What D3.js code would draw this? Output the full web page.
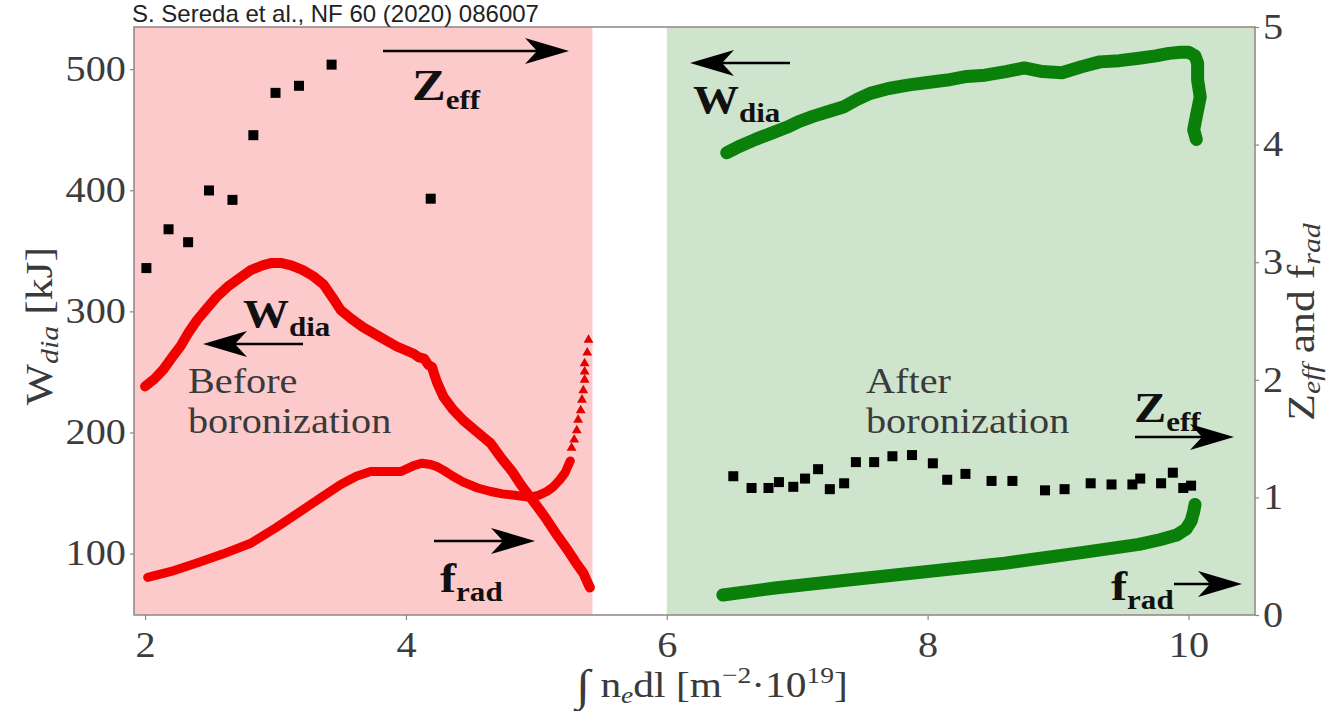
<!DOCTYPE html>
<html>
<head>
<meta charset="utf-8">
<script src="https://cdn.jsdelivr.net/npm/d3@7"></script>
<style>
body { margin: 0; background: #fff; }
svg { display: block; }
</style>
</head>
<body>
<svg id="chart" width="1326" height="711"></svg>
<script>
// ---- data ----
var xTicks = [2, 4, 6, 8, 10];
var yLeftTicks = [100, 200, 300, 400, 500];
var yRightTicks = [0, 1, 2, 3, 4, 5];

var spanBefore = [1.915, 5.43];
var spanAfter = [6.0, 10.51];

// before boronization: W_dia [kJ] (left axis)
var wdiaBefore = [[2.00,238],[2.07,244],[2.14,252],[2.20,261],[2.27,271],[2.33,282],[2.40,293],[2.47,302],
  [2.55,312],[2.64,321],[2.73,328],[2.81,334],[2.90,338],[2.97,340],[3.04,340],[3.12,338],[3.21,334],
  [3.29,329],[3.37,322],[3.44,311],[3.50,301],[3.58,294],[3.67,287],[3.80,279],[3.93,271],[4.06,265],
  [4.10,262],[4.14,261],[4.17,256],[4.20,254],[4.22,247],[4.24,241],[4.29,229],[4.36,219],[4.44,210],
  [4.55,200],[4.65,191],[4.73,179],[4.82,167],[4.88,157],[4.95,147],[5.02,137],[5.08,128],[5.16,115],
  [5.24,103],[5.30,93],[5.36,84],[5.41,72]];
// before: f_rad (right axis), dense part then triangle markers
var fradBefore = [[2.02,0.32],[2.20,0.37],[2.42,0.45],[2.60,0.52],[2.81,0.61],[3.00,0.74],[3.19,0.88],
  [3.35,1.00],[3.50,1.11],[3.62,1.18],[3.73,1.22],[3.85,1.22],[3.96,1.22],[4.06,1.27],[4.12,1.29],
  [4.19,1.28],[4.24,1.26],[4.29,1.23],[4.36,1.18],[4.44,1.13],[4.55,1.08],[4.65,1.05],[4.74,1.03],
  [4.82,1.02],[4.95,1.00],[5.02,1.02],[5.08,1.05],[5.13,1.09],[5.18,1.15],[5.22,1.21],[5.26,1.31]];
var fradBeforeTri = [[5.27,1.42],[5.29,1.49],[5.31,1.57],[5.32,1.66],[5.34,1.74],[5.35,1.83],[5.36,1.91],
  [5.37,2.00],[5.37,2.07],[5.37,2.14],[5.39,2.23],[5.40,2.34]];
// before: Z_eff (right axis)
var zeffBefore = [[2.01,2.95],[2.18,3.28],[2.33,3.17],[2.49,3.61],[2.67,3.53],[2.83,4.08],[3.00,4.44],
  [3.18,4.50],[3.43,4.68],[4.19,3.54]];

// after boronization
var wdiaAfter = [[6.46,431],[6.55,436],[6.68,442],[6.80,447],[6.92,452],[7.02,457],[7.12,461],[7.24,465],
  [7.36,469],[7.46,475],[7.56,480],[7.70,484],[7.86,487],[8.00,489],[8.15,491],[8.30,494],[8.44,495],
  [8.60,498],[8.74,501],[8.88,498],[9.03,497],[9.18,502],[9.32,506],[9.47,507],[9.62,509],[9.75,511],
  [9.85,513],[9.94,514],[10.00,514],[10.05,511],[10.07,505],[10.07,491],[10.09,477],[10.06,461],
  [10.04,450],[10.06,442]];
var fradAfter = [[6.43,0.17],[6.83,0.23],[7.41,0.30],[8.00,0.37],[8.59,0.44],[9.18,0.53],[9.62,0.60],
  [9.78,0.64],[9.91,0.68],[9.98,0.73],[10.02,0.80],[10.04,0.88],[10.05,0.94]];
var zeffAfter = [[6.51,1.18],[6.65,1.08],[6.78,1.08],[6.86,1.13],[6.97,1.09],[7.06,1.16],[7.16,1.24],
  [7.25,1.07],[7.36,1.12],[7.45,1.30],[7.59,1.30],[7.73,1.35],[7.88,1.36],[8.04,1.29],[8.15,1.15],
  [8.29,1.20],[8.49,1.14],[8.65,1.14],[8.90,1.06],[9.05,1.07],[9.25,1.12],[9.41,1.11],[9.57,1.11],
  [9.63,1.16],[9.79,1.12],[9.88,1.21],[9.96,1.08],[10.02,1.10]];

// ---- setup ----
var margin = { left: 134, right: 1255, top: 27, bottom: 615 };
var SX = 1.15; // the original figure is stretched sideways a bit
var serif = "'Liberation Serif', 'DejaVu Serif', serif";

var svg = d3.select("#chart");

var x = d3.scaleLinear().domain([1.915, 10.51]).range([margin.left, margin.right]);
var yL = d3.scaleLinear().domain([49.3, 534.8]).range([margin.bottom, margin.top]);
var yR = d3.scaleLinear().domain([0, 5]).range([margin.bottom, margin.top]);

// shaded regions
svg.append("rect")
    .attr("x", x(spanBefore[0])).attr("y", margin.top)
    .attr("width", x(spanBefore[1]) - x(spanBefore[0]))
    .attr("height", margin.bottom - margin.top)
    .attr("fill", "#fccaca");
svg.append("rect")
    .attr("x", x(spanAfter[0])).attr("y", margin.top)
    .attr("width", x(spanAfter[1]) - x(spanAfter[0]))
    .attr("height", margin.bottom - margin.top)
    .attr("fill", "#cee4cc");

// lines
var lineL = d3.line().x(function(d) { return x(d[0]); }).y(function(d) { return yL(d[1]); });
var lineR = d3.line().x(function(d) { return x(d[0]); }).y(function(d) { return yR(d[1]); });

function drawLine(data, gen, color, w) {
  svg.append("path")
      .datum(data)
      .attr("d", gen)
      .attr("fill", "none")
      .attr("stroke", color)
      .attr("stroke-width", w)
      .attr("stroke-linejoin", "round")
      .attr("stroke-linecap", "round");
}

drawLine(wdiaBefore, lineL, "#f20000", 10);
drawLine(fradBefore, lineR, "#f20000", 9);
drawLine(wdiaAfter, lineL, "#0a7f0a", 13);
drawLine(fradAfter, lineR, "#0a7f0a", 13);

svg.selectAll("path.tri")
    .data(fradBeforeTri)
  .enter().append("path")
    .attr("class", "tri")
    .attr("d", d3.symbol().type(d3.symbolTriangle).size(42))
    .attr("transform", function(d) { return "translate(" + x(d[0]) + "," + yR(d[1]) + ")"; })
    .attr("fill", "#e00000");

// Z_eff squares
svg.selectAll("rect.zeff")
    .data(zeffBefore.concat(zeffAfter))
  .enter().append("rect")
    .attr("class", "zeff")
    .attr("x", function(d) { return x(d[0]) - 5; })
    .attr("y", function(d) { return yR(d[1]) - 5; })
    .attr("width", 10)
    .attr("height", 10)
    .attr("fill", "#000");

// frame
svg.append("rect")
    .attr("x", margin.left).attr("y", margin.top)
    .attr("width", margin.right - margin.left)
    .attr("height", margin.bottom - margin.top)
    .attr("fill", "none")
    .attr("stroke", "#8f8585")
    .attr("stroke-width", 1.5);

// axes
function styleAxis(g) {
  g.select(".domain").remove();
  g.selectAll("line").attr("stroke", "#888").attr("stroke-width", 1.2);
  g.selectAll("text")
      .style("font-family", serif)
      .style("font-size", "35px")
      .attr("fill", "#3c3c3c");
}

svg.append("g")
    .attr("transform", "translate(0," + margin.bottom + ")")
    .call(d3.axisBottom(x).tickValues(xTicks).tickFormat(d3.format("d")).tickSize(5).tickPadding(12))
    .call(styleAxis)
    .selectAll("text").attr("transform", "scale(" + SX + ",1)");

svg.append("g")
    .attr("transform", "translate(" + margin.left + ",0)")
    .call(d3.axisLeft(yL).tickValues(yLeftTicks).tickFormat(d3.format("d")).tickSize(4).tickPadding(3))
    .call(styleAxis)
    .selectAll("text").attr("transform", "scale(" + SX + ",1)");

svg.append("g")
    .attr("transform", "translate(" + margin.right + ",0)")
    .call(d3.axisRight(yR).tickValues(yRightTicks).tickFormat(d3.format("d")).tickSize(4).tickPadding(3))
    .call(styleAxis)
    .selectAll("text").attr("transform", "scale(" + SX + ",1)");

// text helper: serif text stretched sideways, placed at a point
function txt(px, py, opts) {
  opts = opts || {};
  var t = svg.append("text")
      .attr("transform", "translate(" + px + "," + py + ")" + (opts.rotate ? " rotate(" + opts.rotate + ")" : "") +
            " scale(" + SX + ",1)")
      .attr("text-anchor", opts.anchor || "start")
      .style("font-family", serif)
      .style("font-size", (opts.size || 35) + "px")
      .style("font-weight", opts.bold ? "bold" : "normal")
      .attr("fill", opts.color || "#3a3a3a");
  return t;
}

// axis titles
var xl = txt(712, 697, { anchor: "middle", size: 36 });
xl.append("tspan").text("∫").style("font-size", "44px").attr("dy", 3);
xl.append("tspan").text(" n").attr("dy", -3);
xl.append("tspan").text("e").style("font-style", "italic").style("font-size", "24px").attr("dy", 6);
xl.append("tspan").text("dl [m").attr("dy", -6);
xl.append("tspan").text("−2").style("font-size", "24px").attr("dy", -14);
xl.append("tspan").text("·10").attr("dy", 14);
xl.append("tspan").text("19").style("font-size", "24px").attr("dy", -14);
xl.append("tspan").text("]").attr("dy", 14);

var yl = txt(52, 326, { anchor: "middle", size: 38, rotate: -90 });
yl.append("tspan").text("W");
yl.append("tspan").text("dia").style("font-style", "italic").style("font-size", "26px").attr("dy", 6);
yl.append("tspan").text(" [kJ]").attr("dy", -6);

var yr = txt(1314, 322, { anchor: "middle", size: 38, rotate: -90 });
yr.append("tspan").text("Z");
yr.append("tspan").text("eff").style("font-style", "italic").style("font-size", "26px").attr("dy", 6);
yr.append("tspan").text(" and f").attr("dy", -6);
yr.append("tspan").text("rad").style("font-style", "italic").style("font-size", "26px").attr("dy", 6);

// annotations
function arrow(x1, x2, yy) {
  var dir = x2 > x1 ? 1 : -1;
  var len = 44, half = 13, notch = 12;
  svg.append("line")
      .attr("x1", x1).attr("y1", yy)
      .attr("x2", x2 - dir * (len - notch)).attr("y2", yy)
      .attr("stroke", "#000").attr("stroke-width", 2.5);
  svg.append("path")
      .attr("d", "M" + x2 + "," + yy +
                 "L" + (x2 - dir * len) + "," + (yy - half) +
                 "L" + (x2 - dir * (len - notch)) + "," + yy +
                 "L" + (x2 - dir * len) + "," + (yy + half) + "Z")
      .attr("fill", "#000");
}

function boldLabel(px, py, big, small, bigSize) {
  var t = txt(px, py, { size: bigSize || 42, bold: true, color: "#111" });
  t.append("tspan").text(big);
  t.append("tspan").text(small).style("font-size", "27px").attr("dy", 9);
}

// before region
arrow(383, 569, 51);
boldLabel(412, 100, "Z", "eff", 44);
boldLabel(243, 327, "W", "dia", 40);
arrow(303, 203, 344);
txt(188, 393).text("Before");
txt(188, 433).text("boronization");
arrow(434, 535, 541);
boldLabel(440, 592, "f", "rad", 42);

// after region
arrow(790, 690, 63);
boldLabel(693, 113, "W", "dia", 40);
txt(866, 393).text("After");
txt(866, 433).text("boronization");
boldLabel(1134, 422, "Z", "eff", 42);
arrow(1135, 1234, 437);
boldLabel(1111, 600, "f", "rad", 42);
arrow(1174, 1242, 584);

// citation
svg.append("text")
    .attr("x", 132).attr("y", 22)
    .style("font-family", "'Liberation Sans', Arial, sans-serif")
    .style("font-size", "24px")
    .attr("fill", "#222")
    .text("S. Sereda et al., NF 60 (2020) 086007");
</script>
</body>
</html>
